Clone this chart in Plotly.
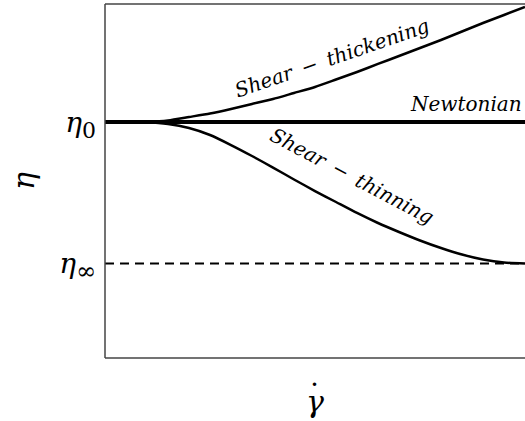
import plotly.graph_objects as go

# Shear rate (arbitrary units) and viscosity levels
shear_rate = [0, 1, 1.5, 2, 2.5, 3, 3.5, 4, 4.5, 5, 5.5, 6, 6.5, 7, 7.5, 8, 8.5, 9, 9.5, 10]
eta_zero = 2.0
eta_inf = 0.8

eta_thickening = [2.0, 2.002, 2.013, 2.042, 2.072, 2.110, 2.153, 2.195, 2.246, 2.297,
                  2.360, 2.424, 2.492, 2.559, 2.627, 2.695, 2.767, 2.839, 2.907, 2.975]
eta_thinning = [2.0, 1.997, 1.983, 1.949, 1.890, 1.805, 1.712, 1.614, 1.513, 1.415,
                1.322, 1.229, 1.144, 1.068, 0.996, 0.932, 0.877, 0.835, 0.809, 0.8]

x_limits = [0, 10]
y_limits = [0, 3]

serif = "DejaVu Serif"

fig = go.Figure()

# Infinite-shear plateau
fig.add_trace(go.Scatter(
    x=x_limits, y=[eta_inf, eta_inf], mode="lines",
    line=dict(color="black", width=2, dash="9px,6px"), hoverinfo="skip"))

# Newtonian fluid: constant viscosity
fig.add_trace(go.Scatter(
    x=x_limits, y=[eta_zero, eta_zero], mode="lines",
    line=dict(color="black", width=4), hoverinfo="skip"))

fig.add_trace(go.Scatter(
    x=shear_rate, y=eta_thickening, mode="lines", line_shape="spline",
    line=dict(color="black", width=2.5, smoothing=0.6), hoverinfo="skip"))

fig.add_trace(go.Scatter(
    x=shear_rate, y=eta_thinning, mode="lines", line_shape="spline",
    line=dict(color="black", width=2.5, smoothing=0.6), hoverinfo="skip"))

labels = [
    dict(text="Shear\u2002−\u2002thickening", x=5.4, y=2.54, textangle=-19),
    dict(text="Newtonian", x=8.6, y=2.15, textangle=0),
    dict(text="Shear\u2002−\u2002thinning", x=5.88, y=1.54, textangle=28),
]
for lab in labels:
    fig.add_annotation(
        x=lab["x"], y=lab["y"], text="<i>" + lab["text"] + "</i>",
        textangle=lab["textangle"], showarrow=False,
        font=dict(family=serif, size=20, color="black"))

# Axis titles (the shear-rate dot is set above the gamma)
fig.add_annotation(xref="paper", yref="paper", x=0, y=0.5, xshift=-82,
                   xanchor="center", yanchor="middle",
                   text="<i>η</i>", textangle=-90, showarrow=False,
                   font=dict(family=serif, size=30, color="black"))
fig.add_annotation(xref="paper", yref="paper", x=0.5, y=0, yshift=-43,
                   xanchor="center", yanchor="middle",
                   text="<i>γ</i>", showarrow=False,
                   font=dict(family=serif, size=30, color="black"))
fig.add_annotation(xref="paper", yref="paper", x=0.5, y=0, yshift=-37, xshift=-1,
                   xanchor="center", yanchor="middle",
                   text="˙", showarrow=False,
                   font=dict(family=serif, size=30, color="black"))

# Axis box: left, top and bottom edges
axis_color = "#444444"
for x0, y0, x1, y1 in [(0, 0, 0, 1), (0, 1, 1, 1), (0, 0, 1, 0)]:
    fig.add_shape(type="line", xref="paper", yref="paper",
                  x0=x0, y0=y0, x1=x1, y1=y1,
                  line=dict(color=axis_color, width=1.5))

fig.update_layout(
    width=525, height=421,
    margin=dict(l=105, r=0, t=4, b=63),
    plot_bgcolor="white", paper_bgcolor="white",
    showlegend=False,
    font=dict(family=serif, color="black"),
)
fig.update_xaxes(range=x_limits, showgrid=False, zeroline=False,
                 showticklabels=False, ticks="")
fig.update_yaxes(
    range=y_limits, showgrid=False, zeroline=False,
    tickvals=[eta_zero, eta_inf],
    ticktext=["<i>η</i><sub><span style='font-size:22px'>0</span></sub>",
              "<i>η</i><sub><span style='font-size:24px'>∞</span></sub>"],
    tickfont=dict(size=28, family=serif), ticks="", ticklabelstandoff=8)

fig.write_html("out.html")
